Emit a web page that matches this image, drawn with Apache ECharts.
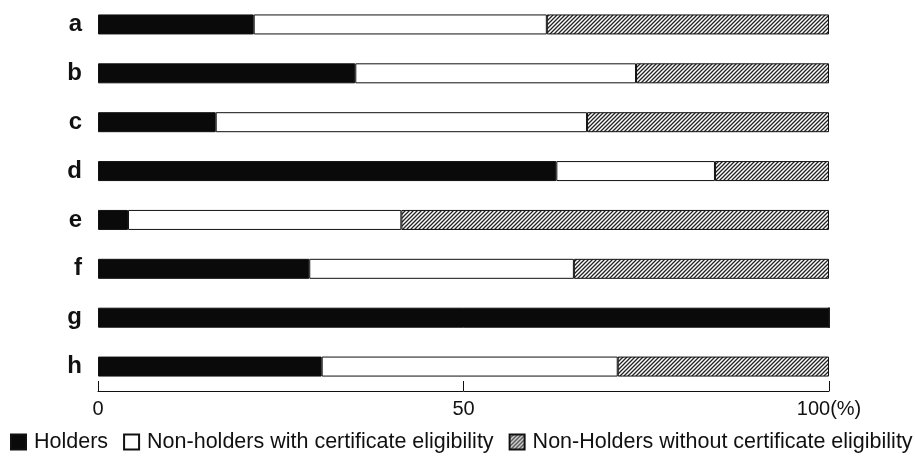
<!DOCTYPE html>
<html>
<head>
<meta charset="utf-8">
<style>
  html, body { margin: 0; padding: 0; background: #fff; }
  #chart { width: 915px; height: 462px; }
</style>
<script src="https://cdn.jsdelivr.net/npm/echarts@6/dist/echarts.min.js"></script>
</head>
<body>
<div id="chart"></div>
<script>
// Share of respondents (%) per group
const categories = ['a', 'b', 'c', 'd', 'e', 'f', 'g', 'h'];
const holders = [21.3, 35.2, 16.1, 62.7, 4.1, 28.9, 100, 30.6];
const eligibleNonHolders = [40.1, 38.4, 50.8, 21.7, 37.4, 36.2, 0, 40.5];
const ineligibleNonHolders = [38.6, 26.4, 33.1, 15.6, 58.5, 34.9, 0, 28.9];
const xTicks = [0, 50, 100];

const seriesNames = [
  'Holders',
  'Non-holders with certificate eligibility',
  'Non-Holders without certificate eligibility'
];

// Diagonal hatch tile for the third segment
function hatchPattern() {
  const s = 4;
  const c = document.createElement('canvas');
  c.width = s; c.height = s;
  const g = c.getContext('2d');
  g.fillStyle = '#ffffff';
  g.fillRect(0, 0, s, s);
  g.strokeStyle = '#222222';
  g.lineWidth = 1.3;
  g.beginPath();
  g.moveTo(-1, s + 1); g.lineTo(s + 1, -1);
  g.moveTo(-1, 1); g.lineTo(1, -1);
  g.moveTo(s - 1, s + 1); g.lineTo(s + 1, s - 1);
  g.stroke();
  return c;
}

const font = '"Liberation Sans", Arial, sans-serif';
const chart = echarts.init(document.getElementById('chart'), null, { renderer: 'canvas' });

const barBase = {
  type: 'bar',
  stack: 'total',
  barWidth: 20,
  silent: true
};

chart.setOption({
  animation: false,
  backgroundColor: '#ffffff',
  grid: { left: 98, right: 86, top: 0, bottom: 71, containLabel: false },
  legend: {
    bottom: 9,
    left: 10,
    padding: 0,
    itemWidth: 15,
    itemHeight: 15,
    itemGap: 15,
    icon: 'rect',
    textStyle: { fontFamily: font, fontSize: 21.5, color: '#111', padding: [0, 0, 0, 3] },
    data: seriesNames
  },
  xAxis: {
    type: 'value',
    min: 0,
    max: 100,
    interval: 50,
    axisLine: { show: true, lineStyle: { color: '#111', width: 1 } },
    axisTick: { show: true, inside: true, length: 10, lineStyle: { color: '#111' } },
    splitLine: { show: false },
    axisLabel: {
      margin: 8,
      fontFamily: font,
      fontSize: 20,
      color: '#111',
      customValues: xTicks,
      formatter: v => (v === 100 ? '100(%)' : String(v))
    }
  },
  yAxis: {
    type: 'category',
    inverse: true,
    data: categories,
    axisLine: { show: false },
    axisTick: { show: false },
    axisLabel: {
      margin: 16,
      fontFamily: font,
      fontSize: 24,
      fontWeight: 'bold',
      color: '#111'
    }
  },
  series: [
    Object.assign({}, barBase, {
      name: seriesNames[0],
      data: holders,
      itemStyle: { color: '#0a0a0a', borderColor: '#111', borderWidth: 1 }
    }),
    Object.assign({}, barBase, {
      name: seriesNames[1],
      data: eligibleNonHolders,
      itemStyle: { color: '#ffffff', borderColor: '#111', borderWidth: 1 }
    }),
    Object.assign({}, barBase, {
      name: seriesNames[2],
      data: ineligibleNonHolders,
      itemStyle: {
        color: { image: hatchPattern(), repeat: 'repeat' },
        borderColor: '#111',
        borderWidth: 1
      }
    })
  ]
});
</script>
</body>
</html>
